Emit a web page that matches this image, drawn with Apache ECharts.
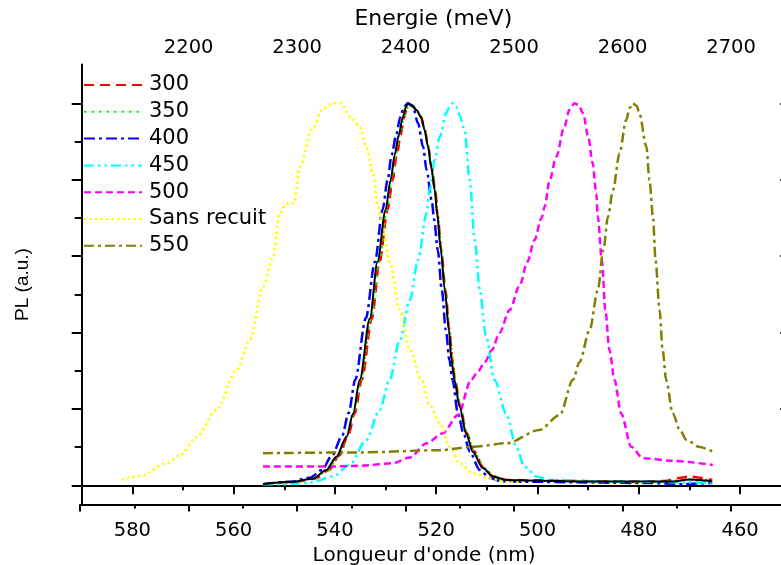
<!DOCTYPE html>
<html><head><meta charset="utf-8">
<script src="https://cdn.jsdelivr.net/npm/echarts@6/dist/echarts.min.js"></script>
<style>html,body{margin:0;padding:0;background:#fff}#c{width:781px;height:565px}</style>
</head><body><div id="c"></div>
<script>
// ---- data (wavelength nm, PL a.u.) ----
const seriesNames = ['300', '350', '400', '450', '500', 'Sans recuit', '550'];
const wavelengthLabels = [460, 480, 500, 520, 540, 560, 580];
const energyLabels = [2200, 2300, 2400, 2500, 2600, 2700];

const s300 = [[554.2,0.003],[547.9,0.009],[543.8,0.018],[541.2,0.040],[539.2,0.077],[537.4,0.129],[536.1,0.189],[534.7,0.276],[532.7,0.437],[531.2,0.585],[529.6,0.721],[528.6,0.799],[527.8,0.865],[527.0,0.917],[526.4,0.961],[525.8,0.987],[525.2,0.997],[524.6,0.992],[523.9,0.982],[523.1,0.967],[522.3,0.933],[521.6,0.888],[520.9,0.833],[520.2,0.771],[519.7,0.705],[519.0,0.616],[518.2,0.511],[517.4,0.407],[516.8,0.328],[516.3,0.276],[515.3,0.208],[514.0,0.137],[512.6,0.090],[510.6,0.045],[508.7,0.023],[506.1,0.014],[499.6,0.013],[491.7,0.011],[481.8,0.010],[474.9,0.011],[472.0,0.019],[470.0,0.023],[468.0,0.020],[465.5,0.014]];

const s350 = [[554.2,0.003],[548.1,0.009],[544.0,0.019],[541.4,0.040],[539.4,0.075],[537.6,0.128],[536.3,0.189],[534.9,0.276],[532.9,0.437],[531.3,0.585],[529.8,0.721],[528.8,0.799],[528.0,0.865],[527.2,0.917],[526.4,0.964],[525.6,0.990],[524.8,0.995],[524.0,0.987],[523.1,0.967],[522.3,0.933],[521.6,0.888],[520.9,0.833],[520.2,0.771],[519.7,0.705],[519.0,0.616],[518.2,0.511],[517.4,0.407],[516.8,0.328],[516.3,0.276],[515.3,0.208],[514.0,0.137],[512.6,0.089],[510.6,0.045],[508.7,0.023],[506.1,0.013],[499.6,0.011],[491.7,0.010],[481.8,0.010],[474.9,0.010],[470.0,0.015],[465.5,0.013]];

const s400 = [[554.2,0.003],[548.9,0.009],[544.9,0.020],[542.6,0.040],[540.6,0.077],[538.6,0.129],[537.3,0.189],[536.0,0.276],[533.9,0.437],[532.1,0.585],[530.6,0.721],[529.6,0.799],[528.8,0.865],[527.9,0.917],[527.1,0.964],[526.4,0.990],[525.6,1.000],[525.0,0.995],[524.6,0.991],[523.6,0.948],[522.6,0.886],[521.9,0.825],[520.9,0.747],[520.4,0.695],[519.7,0.616],[518.9,0.511],[518.1,0.407],[517.4,0.328],[516.8,0.276],[515.7,0.188],[514.6,0.136],[513.4,0.088],[511.4,0.040],[509.4,0.019],[506.9,0.010],[499.6,0.009],[487.8,0.007],[477.9,0.006],[471.0,0.003],[468.0,0.005],[465.5,0.006]];

const s450 = [[554.2,0.003],[548.9,0.003],[544.9,0.007],[540.4,0.023],[537.1,0.053],[533.8,0.119],[531.2,0.197],[529.2,0.276],[527.2,0.380],[525.2,0.485],[523.6,0.590],[521.9,0.713],[521.3,0.773],[520.3,0.852],[519.3,0.913],[518.0,0.975],[517.3,0.993],[516.7,1.000],[516.2,0.996],[515.4,0.969],[514.4,0.930],[513.4,0.799],[512.4,0.642],[511.4,0.511],[510.2,0.393],[508.5,0.276],[506.2,0.188],[504.2,0.101],[502.6,0.049],[500.2,0.023],[497.6,0.014],[487.8,0.010],[477.9,0.009],[470.0,0.007],[465.5,0.007]];

const s500 = [[554.2,0.049],[541.7,0.049],[535.1,0.051],[528.5,0.058],[525.2,0.073],[521.9,0.110],[518.7,0.136],[515.7,0.184],[513.1,0.276],[511.8,0.297],[510.4,0.323],[509.0,0.354],[507.5,0.399],[505.5,0.459],[503.5,0.524],[502.0,0.585],[500.6,0.642],[499.2,0.700],[498.6,0.729],[497.6,0.799],[496.3,0.860],[494.7,0.939],[493.7,0.983],[492.7,1.000],[491.9,0.996],[491.0,0.974],[490.0,0.913],[489.1,0.843],[488.4,0.764],[488.1,0.703],[487.3,0.590],[486.6,0.459],[485.8,0.354],[484.8,0.276],[483.5,0.188],[481.5,0.101],[479.2,0.071],[473.3,0.064],[465.4,0.053]];

const sSansRecuit = [[582.1,0.014],[578.5,0.024],[573.2,0.058],[570.6,0.079],[567.3,0.127],[563.4,0.197],[559.4,0.302],[556.8,0.380],[554.2,0.520],[552.2,0.598],[550.9,0.712],[549.6,0.738],[548.9,0.736],[548.1,0.739],[546.9,0.834],[544.6,0.930],[542.3,0.987],[540.4,1.000],[538.7,1.000],[537.0,0.965],[535.1,0.939],[533.8,0.886],[532.5,0.817],[531.5,0.729],[530.8,0.695],[529.2,0.585],[527.2,0.459],[525.2,0.354],[522.9,0.276],[521.3,0.210],[519.3,0.162],[517.3,0.101],[515.4,0.058],[512.7,0.031],[509.4,0.018],[506.2,0.009],[502.9,0.009]];

const s550 = [[554.2,0.084],[535.1,0.086],[519.3,0.092],[512.7,0.101],[506.1,0.110],[499.6,0.145],[495.6,0.184],[493.0,0.276],[491.7,0.323],[489.7,0.407],[488.1,0.511],[487.0,0.616],[486.1,0.703],[485.1,0.773],[483.8,0.869],[482.5,0.956],[481.8,0.988],[481.2,1.000],[480.4,0.993],[479.9,0.974],[478.5,0.886],[477.9,0.799],[477.2,0.703],[476.7,0.590],[475.9,0.459],[475.3,0.354],[474.6,0.276],[473.3,0.188],[471.9,0.145],[470.6,0.119],[468.0,0.100],[465.4,0.088]];

const sBlack = [[554.2,0.003],[548.3,0.009],[544.3,0.018],[541.7,0.040],[539.7,0.075],[537.7,0.127],[536.4,0.188],[535.1,0.276],[533.1,0.437],[531.6,0.585],[530.0,0.721],[529.0,0.799],[528.2,0.865],[527.4,0.917],[526.6,0.964],[526.0,0.990],[525.6,1.000],[524.8,0.995],[523.9,0.982],[522.9,0.962],[522.3,0.930],[521.6,0.886],[521.0,0.834],[520.3,0.773],[519.8,0.708],[519.1,0.616],[518.3,0.511],[517.5,0.407],[517.0,0.328],[516.4,0.276],[515.4,0.206],[514.1,0.136],[512.8,0.088],[510.8,0.045],[508.8,0.023],[506.2,0.014],[499.6,0.012],[491.7,0.010],[481.8,0.010],[473.4,0.010],[470.0,0.015],[468.0,0.014],[465.5,0.010]];

const seriesData = [s300, s350, s400, s450, s500, sSansRecuit, s550];

// ---- styles ----
const FONT = 'DejaVu Sans';
const styles = [
  { color: '#FF0000', type: [10, 6] },
  { color: '#00FF00', type: [2.5, 5] },
  { color: '#0000FF', type: [11, 4, 3, 4] },
  { color: '#00FFFF', type: [10, 4, 2.5, 4, 2.5, 4] },
  { color: '#FF00FF', type: [7, 4] },
  { color: '#FFFF00', type: [2.5, 3] },
  { color: '#808000', type: [10, 4, 3, 4] }
];

const series = seriesData.map((d, i) => ({
  name: seriesNames[i], type: 'line', data: d, xAxisIndex: 0, yAxisIndex: 0,
  symbol: 'none', smooth: 0.3, smoothMonotone: 'x',
  lineStyle: { color: styles[i].color, width: 2.5, type: styles[i].type },
  itemStyle: { color: styles[i].color }
}));
series.push({
  name: 'ref', type: 'line', data: sBlack, xAxisIndex: 0, yAxisIndex: 0,
  symbol: 'none', smooth: 0.3, smoothMonotone: 'x',
  lineStyle: { color: '#000', width: 2 }, itemStyle: { color: '#000' }, z: 3
});

const blackLine = { show: true, lineStyle: { color: '#000', width: 2 } };
const noLine = { show: false };

const option = {
  animation: false,
  backgroundColor: '#fff',
  textStyle: { fontFamily: FONT },
  grid: [
    { left: 81.7, right: -60.4, top: 64.5, bottom: 60.5, containLabel: false, outerBoundsMode: 'none' },
    { left: 81.7, right: -60.4, top: 103.3, bottom: 79.7, containLabel: false, outerBoundsMode: 'none' },
    { left: 80.2, right: -60.4, top: 64.5, bottom: 60.5, containLabel: false, outerBoundsMode: 'none' }
  ],
  legend: {
    data: seriesNames, left: 83, top: 74.5, orient: 'vertical', padding: 0,
    itemWidth: 58, itemHeight: 20, itemGap: 5.8,
    itemStyle: { opacity: 0 },
    textStyle: { fontFamily: FONT, fontSize: 21, color: '#000', lineHeight: 20, padding: [0, 0, 0, 2] }
  },
  xAxis: [
    { // wavelength, labelled, long ticks + minor ticks
      gridIndex: 0, type: 'value', position: 'bottom', inverse: true, min: 440, max: 590, interval: 20,
      axisLine: blackLine, splitLine: { show: false },
      axisTick: { show: true, inside: false, length: 9, lineStyle: { color: '#000', width: 2 } },
      minorTick: { show: true, splitNumber: 2, length: 5, lineStyle: { color: '#000', width: 2 } },
      minorSplitLine: { show: false },
      axisLabel: { show: true, fontFamily: FONT, fontSize: 19.5, color: '#000', margin: 16, showMaxLabel: false,
        formatter: v => wavelengthLabels.includes(v) ? String(v) : '' },
      name: "Longueur d'onde (nm)", nameLocation: 'middle', nameGap: 36,
      nameTextStyle: { fontFamily: FONT, fontSize: 20, color: '#000', padding: [0, 75, 0, 0] }
    },
    { // energy, labelled
      gridIndex: 2, type: 'value', position: 'top', min: 2100, max: 2801.7, interval: 100,
      axisLine: blackLine, splitLine: { show: false },
      axisTick: { show: true, inside: true, length: 7, lineStyle: { color: '#000', width: 2 } },
      minorTick: { show: true, splitNumber: 2, length: 4, lineStyle: { color: '#000', width: 2 } },
      minorSplitLine: { show: false },
      axisLabel: { show: true, fontFamily: FONT, fontSize: 19.5, color: '#000', margin: 7, showMinLabel: false, showMaxLabel: false,
        formatter: v => energyLabels.includes(v) ? String(v) : '' },
      name: 'Energie (meV)', nameLocation: 'middle', nameGap: 34,
      nameTextStyle: { fontFamily: FONT, fontSize: 22, color: '#000', padding: [0, 55, 0, 0] }
    },
    { gridIndex: 1, type: 'value', show: false, min: 0, max: 1 }
  ],
  yAxis: [
    { // main PL axis (line only)
      gridIndex: 0, type: 'value', position: 'left', min: -0.0503, max: 1.1016,
      axisLine: blackLine, axisTick: { show: false }, axisLabel: { show: false }, splitLine: { show: false },
      name: 'PL (a.u.)', nameLocation: 'middle', nameGap: 49,
      nameTextStyle: { fontFamily: 'Liberation Sans', fontSize: 19, color: '#000' }
    },
    { // left ticks
      gridIndex: 1, type: 'value', position: 'left', min: 0, max: 1, interval: 0.2,
      axisLine: noLine, axisLabel: { show: false }, splitLine: { show: false },
      axisTick: { show: true, inside: false, length: 10, lineStyle: { color: '#000', width: 2 } },
      minorTick: { show: true, splitNumber: 2, length: 7, lineStyle: { color: '#000', width: 2 } },
      minorSplitLine: { show: false }
    },
    { // right ticks
      gridIndex: 1, type: 'value', position: 'right', offset: -61.4, min: 0, max: 1, interval: 0.2,
      axisLine: noLine, axisLabel: { show: false }, splitLine: { show: false },
      axisTick: { show: true, inside: false, length: 2, lineStyle: { color: '#000', width: 1.5 } }
    },
    { gridIndex: 2, type: 'value', show: false, min: 0, max: 1 }
  ],
  series: series
};

const chart = echarts.init(document.getElementById('c'), null, { renderer: 'canvas' });
chart.setOption(option);
</script>
</body></html>
